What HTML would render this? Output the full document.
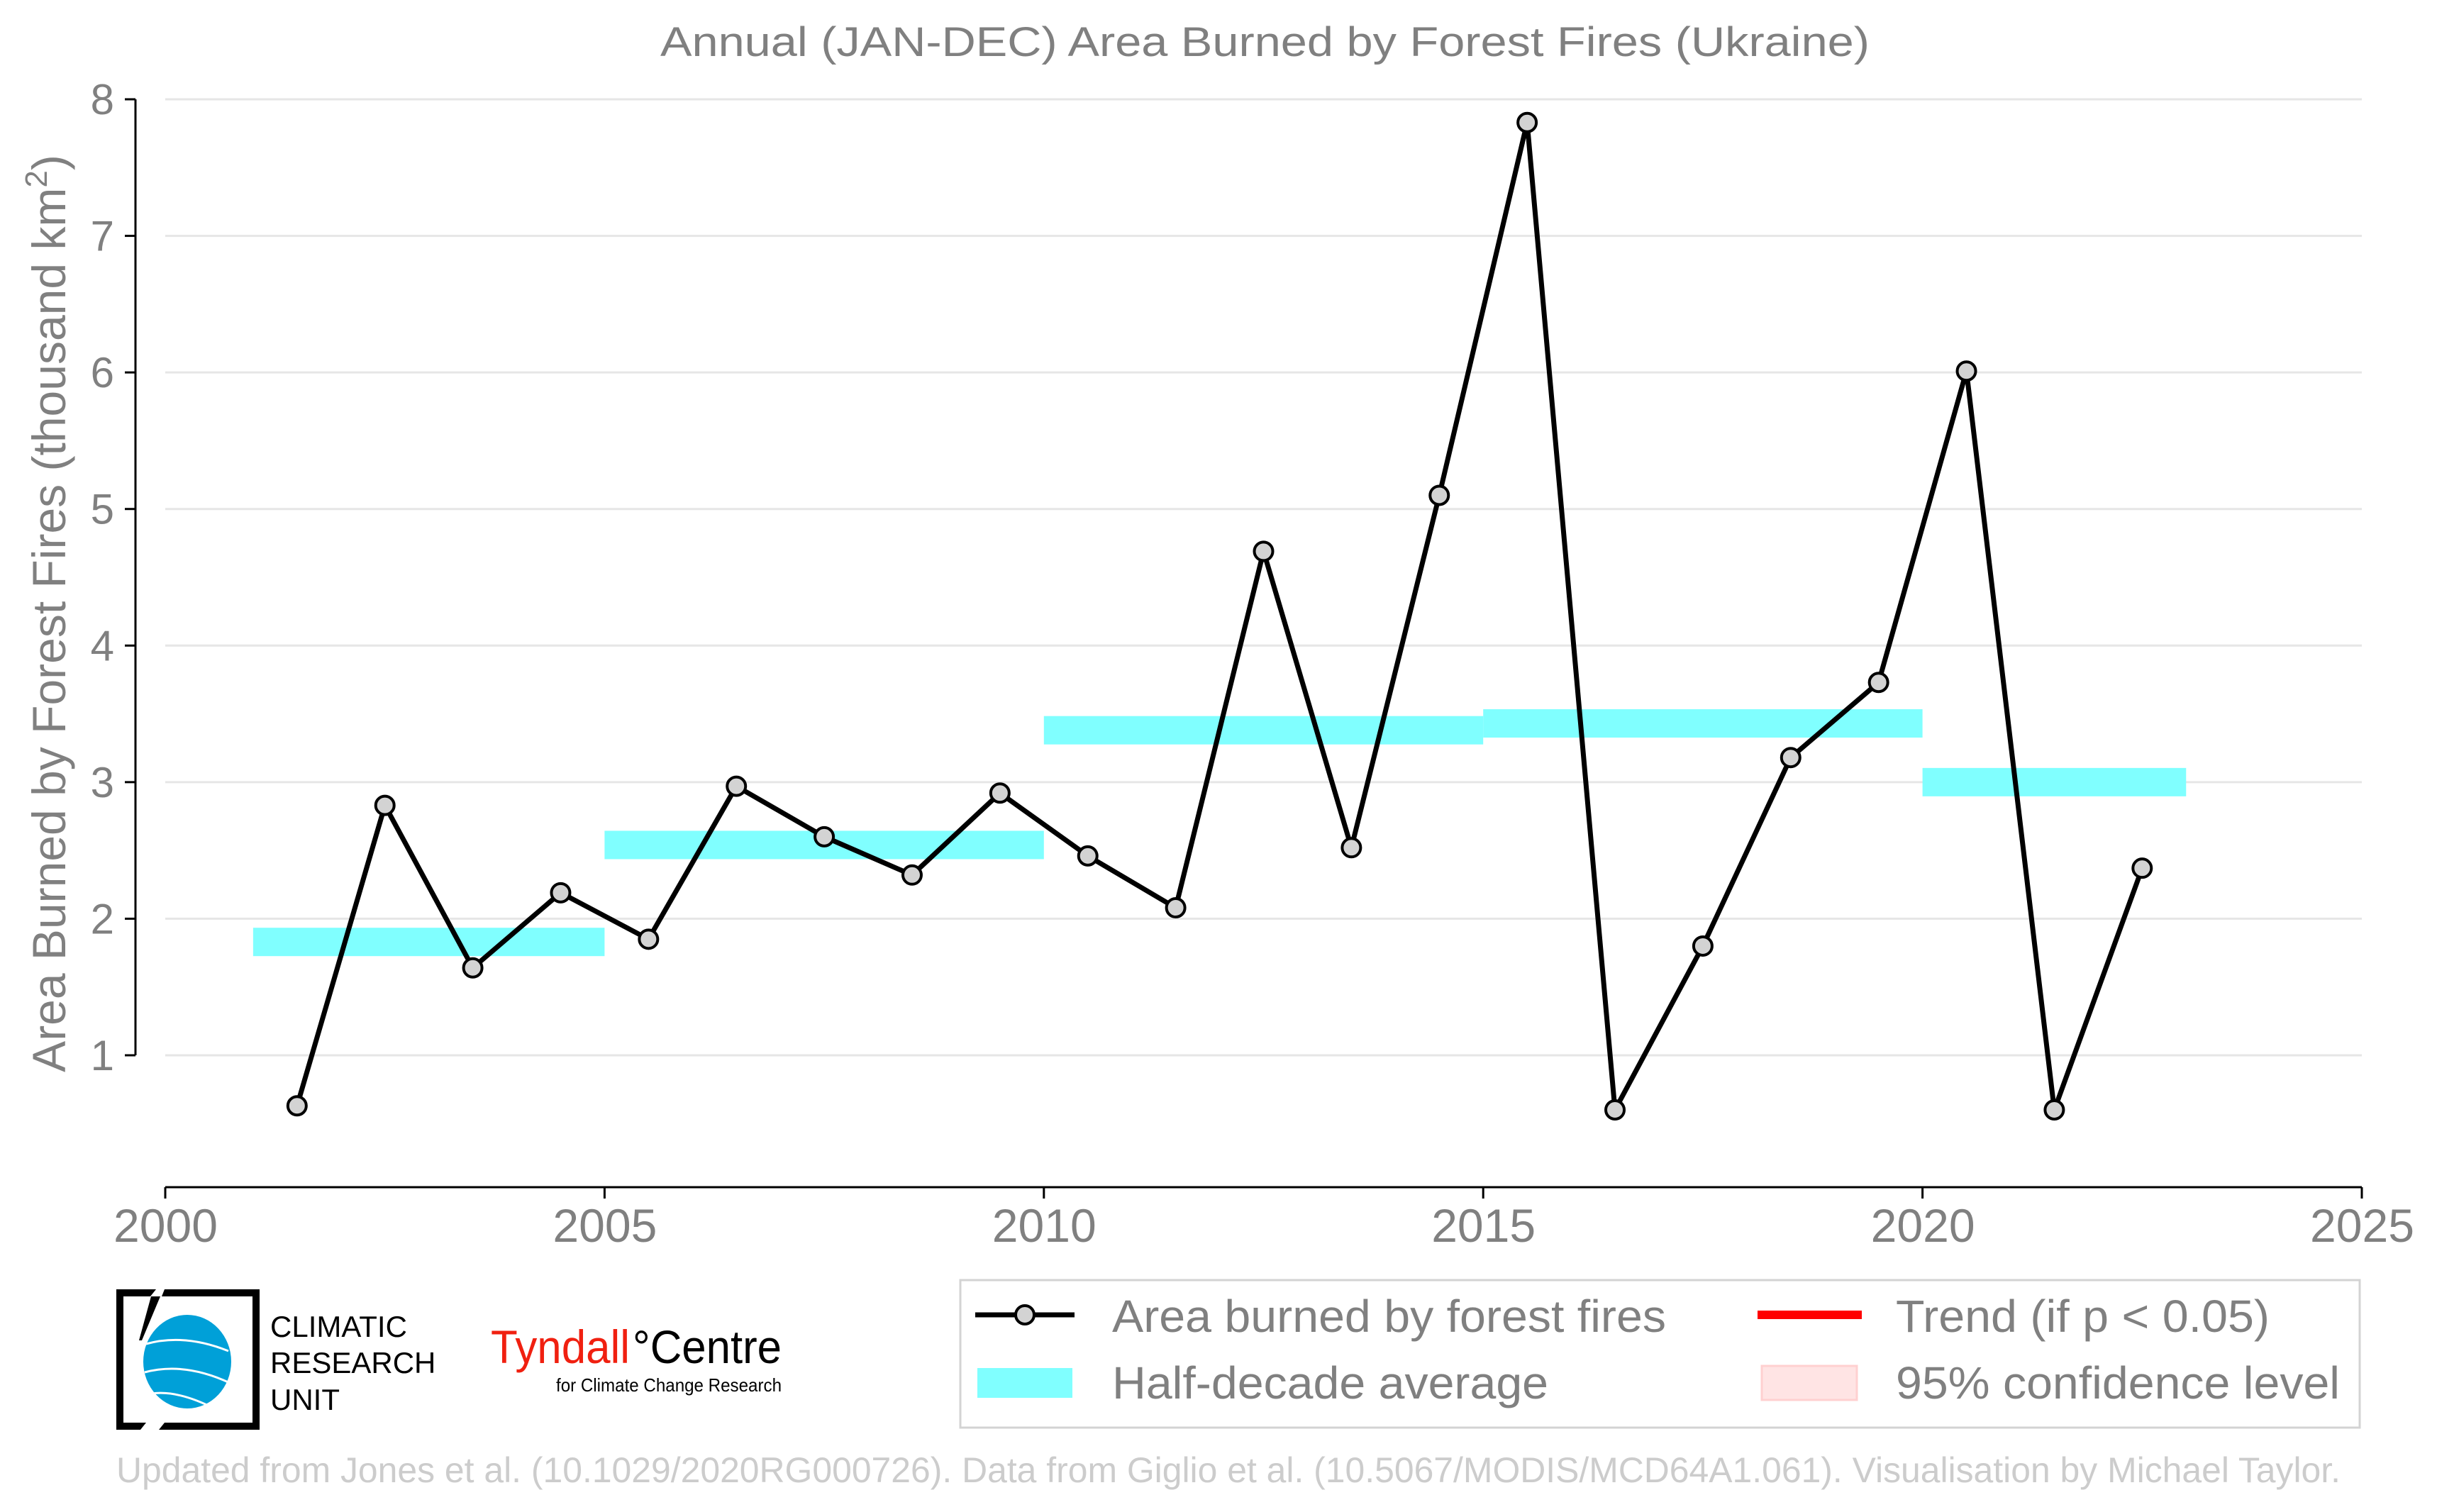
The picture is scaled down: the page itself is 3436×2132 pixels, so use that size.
<!DOCTYPE html>
<html><head><meta charset="utf-8"><style>
html,body{margin:0;padding:0;background:#fff}
svg{display:block}
text{font-family:"Liberation Sans Narrow","Liberation Sans",sans-serif}
</style></head><body>
<svg id="chart" width="3436" height="2132" viewBox="0 0 3436 2132" xmlns="http://www.w3.org/2000/svg">
<text x="931" y="79" font-size="58" fill="#808080" textLength="1705" lengthAdjust="spacingAndGlyphs">Annual (JAN-DEC) Area Burned by Forest Fires (Ukraine)</text>
<g id="grid"></g>
<g id="bands"></g>
<g id="axes"></g>
<g id="series"></g>
<text transform="translate(92,865) rotate(-90)" text-anchor="middle" font-size="66" fill="#808080" style="font-family:'Liberation Sans',sans-serif">Area Burned by Forest Fires (thousand km<tspan font-size="44" dy="-26">2</tspan><tspan dy="26">)</tspan></text>

<!-- logos -->
<g>
<path d="M164,1818 H220 L212,1828 H174 V2006 H206 L198,2016 H164 Z" fill="#000"/>
<path d="M232,1818 H366 V2016 H224 L232,2006 H356 V1828 H228 Z" fill="#000"/>
<polygon points="213,1828 226,1828 200,1890 196,1890" fill="#000"/>
<ellipse cx="264" cy="1920" rx="62" ry="66" fill="#00a0d8"/>
<path d="M206,1895 Q260,1880 322,1905 M204,1935 Q260,1920 324,1950 M214,1965 Q250,1960 300,1985" stroke="#fff" stroke-width="3" fill="none"/>
<text x="381" y="1885" font-size="42" fill="#000">CLIMATIC</text>
<text x="381" y="1936" font-size="42" fill="#000">RESEARCH</text>
<text x="381" y="1988" font-size="42" fill="#000">UNIT</text>
</g>
<g>
<text x="692" y="1922" font-size="66" fill="#f02010" textLength="196" lengthAdjust="spacingAndGlyphs">Tyndall</text>
<text x="892" y="1922" font-size="66" fill="#000" textLength="210" lengthAdjust="spacingAndGlyphs">°Centre</text>
<text x="784" y="1962" font-size="26" fill="#000" textLength="318" lengthAdjust="spacingAndGlyphs">for Climate Change Research</text>
</g>

<!-- legend -->
<g>
<rect x="1354" y="1805" width="1973" height="208" fill="#fff" stroke="#d3d3d3" stroke-width="3"/>
<g>
<line x1="1375" y1="1854" x2="1515" y2="1854" stroke="#000" stroke-width="7"/>
<circle cx="1445" cy="1854" r="13" fill="#d3d3d3" stroke="#000" stroke-width="4"/>
<text x="1568" y="1878" font-size="64" fill="#808080" textLength="781" lengthAdjust="spacingAndGlyphs">Area burned by forest fires</text>
</g>
<g>
<rect x="1378" y="1929" width="134" height="42" fill="#80ffff"/>
<text x="1568" y="1972" font-size="64" fill="#808080" textLength="615" lengthAdjust="spacingAndGlyphs">Half-decade average</text>
</g>
<g>
<rect x="2478" y="1848" width="147" height="12" fill="#ff0000"/>
<text x="2673" y="1878" font-size="64" fill="#808080" textLength="527" lengthAdjust="spacingAndGlyphs">Trend (if p &lt; 0.05)</text>
</g>
<g>
<rect x="2484" y="1926" width="134" height="48" fill="#ffe4e4" stroke="#ffd0d0" stroke-width="3"/>
<text x="2673" y="1972" font-size="64" fill="#808080" textLength="626" lengthAdjust="spacingAndGlyphs">95% confidence level</text>
</g>
</g>

<text x="164" y="2090" font-size="50" fill="#cccccc" textLength="3136" lengthAdjust="spacingAndGlyphs">Updated from Jones et al. (10.1029/2020RG000726). Data from Giglio et al. (10.5067/MODIS/MCD64A1.061). Visualisation by Michael Taylor.</text>
</svg>
<script>
const years = [2001,2002,2003,2004,2005,2006,2007,2008,2009,2010,2011,2012,2013,2014,2015,2016,2017,2018,2019,2020,2021,2022];
const areaValues = [0.63,2.83,1.64,2.19,1.85,2.97,2.60,2.32,2.92,2.46,2.08,4.69,2.52,5.10,7.83,0.60,1.80,3.18,3.73,6.01,0.60,2.37];
const bandStarts = [2001,2005,2010,2015,2020];
const bandEnds = [2005,2010,2015,2020,2023];
const bandValues = [1.83,2.54,3.38,3.43,3.00];
const yTicks = [1,2,3,4,5,6,7,8];
const xTicks = [2000,2005,2010,2015,2020,2025];

const NS = 'http://www.w3.org/2000/svg';
const X0 = 233, X1 = 3330, XMIN = 2000, XMAX = 2025;
const xs = v => X0 + (v - XMIN) * (X1 - X0) / (XMAX - XMIN);
const ys = v => 1488 - (v - 1) * (1488 - 140) / 7;
function mk(tag, attrs, parent){const e=document.createElementNS(NS,tag);for(const k in attrs)e.setAttribute(k,attrs[k]);parent.appendChild(e);return e;}
const grid=document.getElementById('grid'), bands=document.getElementById('bands'), axes=document.getElementById('axes'), series=document.getElementById('series');

yTicks.forEach(t=>{
  const g=mk('line',{x1:X0,x2:X1,y1:ys(t),y2:ys(t),stroke:'#e6e6e6','stroke-width':3},grid);
  
  
  mk('line',{x1:176,x2:191,y1:ys(t),y2:ys(t),stroke:'#000','stroke-width':3},axes);
  const l=mk('text',{x:161,y:ys(t)+21,'text-anchor':'end','font-size':60,fill:'#808080',style:"font-family:'Liberation Sans',sans-serif"},axes);
  l.textContent=t;
  
  
});
mk('line',{x1:191,x2:191,y1:ys(8),y2:ys(1),stroke:'#000','stroke-width':3},axes);
mk('line',{x1:X0,x2:X1,y1:1674,y2:1674,stroke:'#000','stroke-width':3},axes);
xTicks.forEach(t=>{
  mk('line',{x1:xs(t),x2:xs(t),y1:1674,y2:1690,stroke:'#000','stroke-width':3},axes);
  const l=mk('text',{x:xs(t)-73,y:1751,'font-size':66,fill:'#808080',textLength:147,lengthAdjust:'spacingAndGlyphs'},axes);
  l.textContent=t;
  
  
});
bandValues.forEach((v,i)=>{
  const r=mk('rect',{x:xs(bandStarts[i]),y:ys(v)-20,width:xs(bandEnds[i])-xs(bandStarts[i]),height:40,fill:'#80ffff'},bands);
  
  
});
const pts=years.map((y,i)=>xs(y+0.5)+','+ys(areaValues[i])).join(' ');
const pl=mk('polyline',{points:pts,fill:'none',stroke:'#000','stroke-width':7,'stroke-linejoin':'round'},series);


years.forEach((y,i)=>{
  const c=mk('circle',{cx:xs(y+0.5),cy:ys(areaValues[i]),r:13,fill:'#d3d3d3',stroke:'#000','stroke-width':4},series);
  
  
});
</script>
</body></html>
